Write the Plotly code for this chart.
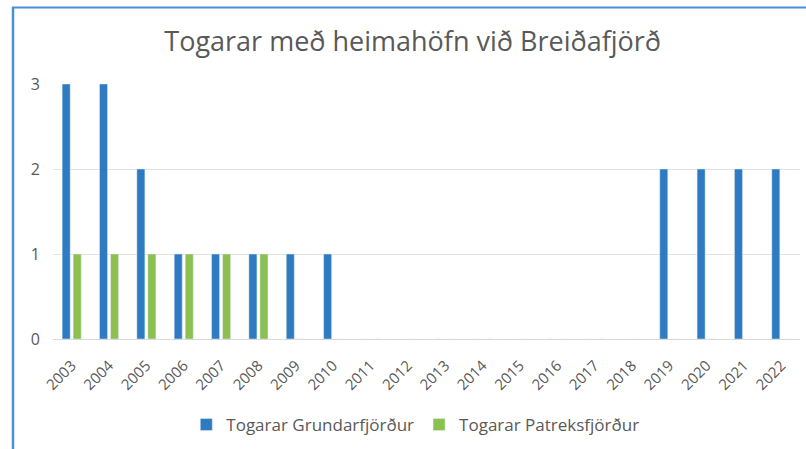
import plotly.graph_objects as go

years = [str(y) for y in range(2003, 2023)]
grundarfjordur = [3, 3, 2, 1, 1, 1, 1, 1, 0, 0, 0, 0, 0, 0, 0, 0, 2, 2, 2, 2]
patreksfjordur = [1, 1, 1, 1, 1, 1, 0, 0, 0, 0, 0, 0, 0, 0, 0, 0, 0, 0, 0, 0]

W, H = 806, 449
L, R, T, B = 53, 6, 84, 110
pw, ph = W - L - R, H - T - B

def px(x):
    return (x - L) / pw

def py(y):
    return (H - B - y) / ph

fig = go.Figure()
fig.add_trace(go.Bar(x=years, y=grundarfjordur, name="Togarar Grundarfjörður",
                     marker_color="#2E7BC1"))
fig.add_trace(go.Bar(x=years, y=patreksfjordur, name="Togarar Patreksfjörður",
                     marker_color="#8CC152"))

border = "#4A90D9"
fig.add_shape(type="line", xref="paper", yref="paper", x0=px(13), x1=px(13),
              y0=py(7), y1=py(449), line=dict(color=border, width=2.5))
fig.add_shape(type="line", xref="paper", yref="paper", x0=px(12), x1=px(806),
              y0=py(7.5), y1=py(7.5), line=dict(color=border, width=2))

fig.update_layout(
    width=W, height=H,
    margin=dict(l=L, r=R, t=T, b=B),
    paper_bgcolor="white", plot_bgcolor="white",
    font=dict(family="Open Sans, Noto Sans, sans-serif", color="#595959"),
    title=dict(text="Togarar med heimahöfn við Breiðafjörð".replace("med", "með"),
               x=0.512, xanchor="center",
               y=1 - 42 / H, yanchor="middle",
               font=dict(size=27, color="#595959")),
    barmode="group", bargap=0.41, bargroupgap=0.27,
    showlegend=True,
    legend=dict(orientation="h", x=0.485, xanchor="center", y=py(425), yanchor="middle",
                font=dict(size=17, color="#595959"), itemwidth=30,
                traceorder="normal"),
    xaxis=dict(type="category", tickangle=-45, tickfont=dict(size=15, color="#595959"),
               showline=True, linecolor="#D9D9D9", linewidth=1, showgrid=False,
               ticks="", ticklabelstandoff=11, fixedrange=True),
    yaxis=dict(range=[0, 3], dtick=1, showgrid=True, gridcolor="#E3E3E3", gridwidth=1,
               zeroline=False, tickfont=dict(size=16, color="#595959"), ticks="",
               ticklabelstandoff=12, fixedrange=True),
)

fig.write_html("out.html", config={"displayModeBar": False},
               post_script="document.body.style.margin='0';")
